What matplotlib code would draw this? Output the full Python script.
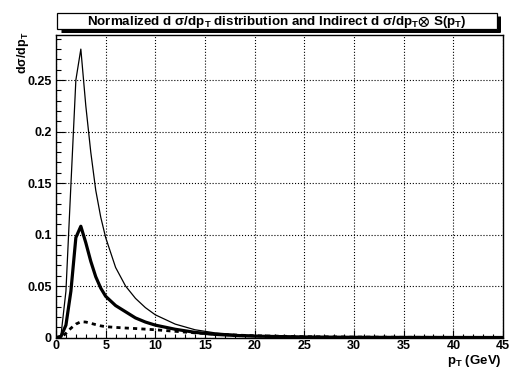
import matplotlib
matplotlib.use("Agg")
import matplotlib.pyplot as plt
from matplotlib.patches import Rectangle
from matplotlib.lines import Line2D
from matplotlib.ticker import MultipleLocator, FuncFormatter

plt.rcParams["font.family"] = ["Liberation Sans", "DejaVu Sans"]
plt.rcParams["font.weight"] = "bold"
plt.rcParams["mathtext.fontset"] = "custom"
plt.rcParams["mathtext.rm"] = "Liberation Sans:bold"
plt.rcParams["mathtext.it"] = "Liberation Sans:bold"
plt.rcParams["mathtext.bf"] = "Liberation Sans:bold"
plt.rcParams["mathtext.fallback"] = "stixsans"

# values
pt = [0, 0.5, 1.0, 1.5, 2.0, 2.5, 3.0, 3.5, 4.0, 4.5, 5, 6, 7, 8, 9, 10,
      12, 14, 16, 18, 20, 25, 30, 35, 40, 45]
normalized = [0, 0.002, 0.045, 0.148, 0.25, 0.28, 0.225, 0.18, 0.143, 0.117,
              0.097, 0.068, 0.050, 0.038, 0.029, 0.022, 0.013, 0.0075,
              0.0045, 0.003, 0.002, 0.0008, 0.0003, 0.0001, 0.00005, 0]
indirect = [0, 0.001, 0.012, 0.045, 0.097, 0.108, 0.092, 0.074, 0.059, 0.048,
            0.040, 0.031, 0.025, 0.019, 0.015, 0.012, 0.008, 0.005, 0.003,
            0.002, 0.0013, 0.0005, 0.0002, 0.0001, 0.00005, 0]
indirect_low = [0, 0.0, 0.004, 0.009, 0.013, 0.0153, 0.015, 0.0138, 0.0125,
                0.0113, 0.0105, 0.0098, 0.0092, 0.0087, 0.0081, 0.0075,
                0.006, 0.0045, 0.0033, 0.0024, 0.0017, 0.0008, 0.0004,
                0.0002, 0.0001, 0]

W, H = 509, 373
fig = plt.figure(figsize=(W / 100, H / 100), dpi=100)
ax = fig.add_axes([56 / W, 1 - 337.5 / H, (503 - 56) / W, (337.5 - 35) / H])

ax.plot(pt, normalized, color="black", lw=0.9)
ax.plot(pt, indirect, color="black", lw=2.3)
ax.plot(pt, indirect_low, color="black", lw=2.0, linestyle=(0, (1.5, 1.5)))

ax.set_xlim(0, 45)
ax.set_ylim(0, 0.2937)
ax.xaxis.set_major_locator(MultipleLocator(5))
ax.xaxis.set_minor_locator(MultipleLocator(1))
ax.yaxis.set_major_locator(MultipleLocator(0.05))
ax.yaxis.set_minor_locator(MultipleLocator(0.01))
ax.xaxis.set_major_formatter(FuncFormatter(lambda v, p: f"{v:g}"))
ax.yaxis.set_major_formatter(FuncFormatter(lambda v, p: f"{v:g}"))
ax.tick_params(axis="both", which="both", direction="in", labelsize=9,
               top=False, right=False, width=0.8)
ax.tick_params(axis="y", which="major", length=6.5, pad=3)
ax.tick_params(axis="y", which="minor", length=3.6)
ax.tick_params(axis="x", which="major", length=6, pad=2)
ax.tick_params(axis="x", which="minor", length=3)
ax.grid(True, which="major", color="black", linestyle=":", lw=0.8)
for s in ax.spines.values():
    s.set_linewidth(1.0)

# title box with a black drop shadow (ROOT style)
shadow_w = 3 * 72 / 100  # 3 px in points
fig.add_artist(Line2D([61 / W, 500 / W], [1 - 30.5 / H, 1 - 30.5 / H],
                      transform=fig.transFigure, color="black",
                      lw=shadow_w, solid_capstyle="butt", zorder=4))
fig.add_artist(Line2D([498.5 / W, 498.5 / W], [1 - 16 / H, 1 - 32 / H],
                      transform=fig.transFigure, color="black",
                      lw=shadow_w, solid_capstyle="butt", zorder=4))
fig.add_artist(Rectangle((57 / W, 1 - 29 / H), 440 / W, 16 / H,
                         transform=fig.transFigure, facecolor="white",
                         edgecolor="black", lw=0.9, zorder=5))
fig.text(277 / W, 1 - 21.5 / H,
         "Normalized d σ/dp$_\\mathrm{T}$ distribution and Indirect "
         "d σ/dp$_\\mathrm{T}$$\\otimes$ S(p$_\\mathrm{T}$)",
         ha="center", va="center", fontsize=9.6, fontweight="bold", zorder=6)

fig.text(23 / W, 1 - 32 / H, "dσ/dp$_\\mathrm{T}$", rotation=90,
         ha="center", va="top", fontsize=9, fontweight="bold")
fig.text(502 / W, 1 - 353 / H, "p$_\\mathrm{T}$ (GeV)",
         ha="right", va="top", fontsize=9.5, fontweight="bold")

fig.savefig("out.png", dpi=100)
